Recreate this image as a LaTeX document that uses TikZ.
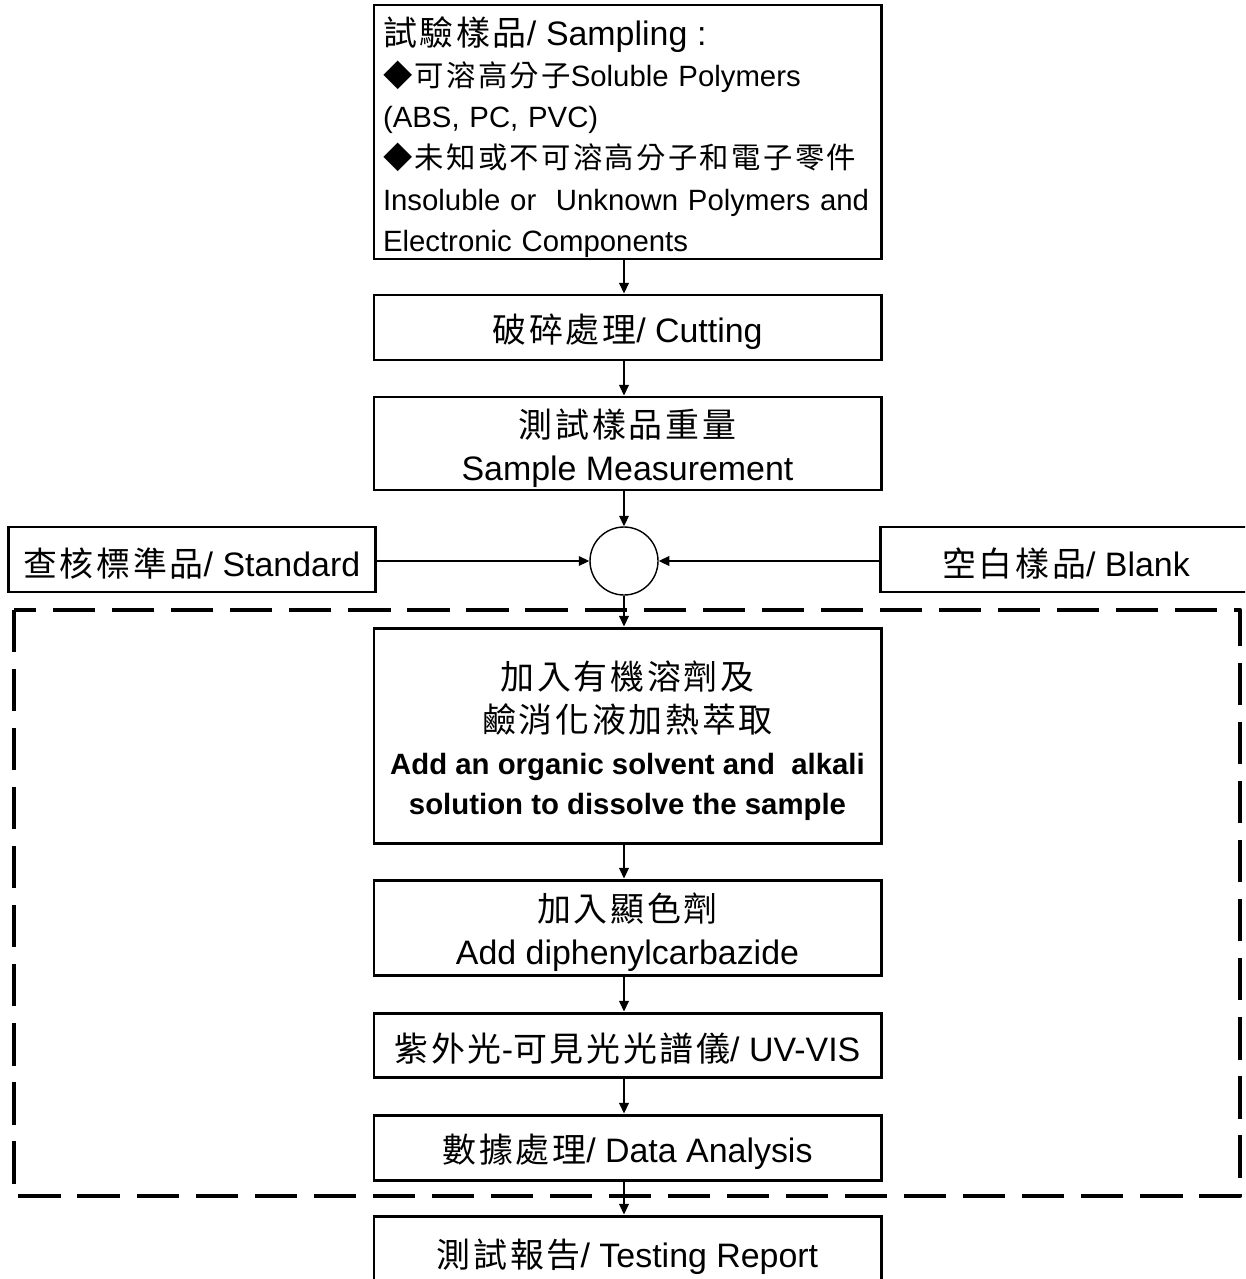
\documentclass[tikz,border=0pt]{standalone}
\usepackage{fontspec}
\setmainfont{Liberation Sans}
\newfontfamily\zhfont[LetterSpace=8]{Noto Sans CJK TC}
\newcommand{\zh}[1]{\raisebox{0pt}[1.1em][0.12em]{\zhfont #1}}
\newcommand{\enb}[1]{{\fontsize{16.7}{22}\selectfont\bfseries #1}}
\usetikzlibrary{arrows.meta}

\begin{document}
\begin{tikzpicture}[
    box/.style={draw, line width=1.7pt, minimum width=10.14cm, align=center, inner sep=0pt},
    arr/.style={line width=0.8pt, -{Triangle[length=6pt, width=5.5pt]}},
    big/.style={font=\fontsize{19.3}{24.4}\selectfont},
    small/.style={font=\fontsize{16.7}{23.5}\selectfont}]
    \useasboundingbox (0, 0) rectangle (24.9, -25.58);
    \clip (0, 0) rectangle (24.9, -25.58);
    \node [box, small, align=left, text width=9.78cm, inner xsep=0.18cm, minimum height=5.08cm] (samp) at (12.55, -2.64) {\rule{0pt}{22pt}{\fontsize{19.3}{23.5}\selectfont\zh{試驗樣品}/ Sampling :}\\ \zh{◆可溶高分子}Soluble Polymers\\ (ABS, PC, PVC)\\ \zh{◆未知或不可溶高分子和電子零件}\\ Insoluble or~ Unknown Polymers and\\ Electronic Components};
    \node [box, big, minimum height=1.30cm] (cut) at (12.55, -6.55) {\zh{破碎處理}/ Cutting};
    \node [box, big, minimum height=1.86cm] (meas) at (12.55, -8.87) {\zh{測試樣品重量}\\ Sample Measurement};
    \node [draw, circle, line width=0.8pt, minimum size=1.36cm] (mix) at (12.48, -11.22) {};
    \node [box, big, minimum width=7.34cm, minimum height=1.30cm] (std) at (3.835, -11.19) {\zh{查核標準品}/ Standard};
    \node [box, big, minimum width=7.44cm, minimum height=1.30cm] (blank) at (21.32, -11.19) {\zh{空白樣品}/ Blank};
    \draw [line width=2.5pt, dash pattern=on 24pt off 9.6pt, line join=round] (0.28, -12.2) rectangle (24.8, -23.92);
    \node [box, big, minimum height=4.30cm] (dis) at (12.55, -14.71) {\rule{0pt}{22pt}\zh{加入有機溶劑及}\\ \zh{鹼消化液加熱萃取}\\ \enb{Add an organic solvent and~ alkali}\\[-2pt] \enb{solution to dissolve the sample}};
    \node [box, big, minimum height=1.90cm] (col) at (12.55, -18.55) {\zh{加入顯色劑}\\ Add diphenylcarbazide};
    \node [box, big, minimum height=1.28cm] (uv) at (12.55, -20.90) {\zh{紫外光}-\zh{可見光光譜儀}/ UV-VIS};
    \node [box, big, minimum height=1.30cm] (dat) at (12.55, -22.95) {\zh{數據處理}/ Data Analysis};
    \node [box, big, minimum height=1.44cm] (rep) at (12.55, -25.04) {\zh{測試報告}/ Testing Report};
    \draw [arr] (samp.south -| mix) -- (cut.north -| mix);
    \draw [arr] (cut.south -| mix) -- (meas.north -| mix);
    \draw [arr] (meas.south -| mix) -- (mix.north);
    \draw [arr] (std.east |- mix) -- (mix.west);
    \draw [arr] (blank.west |- mix) -- (mix.east);
    \draw [arr] (mix.south) -- (dis.north -| mix);
    \draw [arr] (dis.south -| mix) -- (col.north -| mix);
    \draw [arr] (col.south -| mix) -- (uv.north -| mix);
    \draw [arr] (uv.south -| mix) -- (dat.north -| mix);
    \draw [arr] (dat.south -| mix) -- (rep.north -| mix);
  \end{tikzpicture}
\end{document}
